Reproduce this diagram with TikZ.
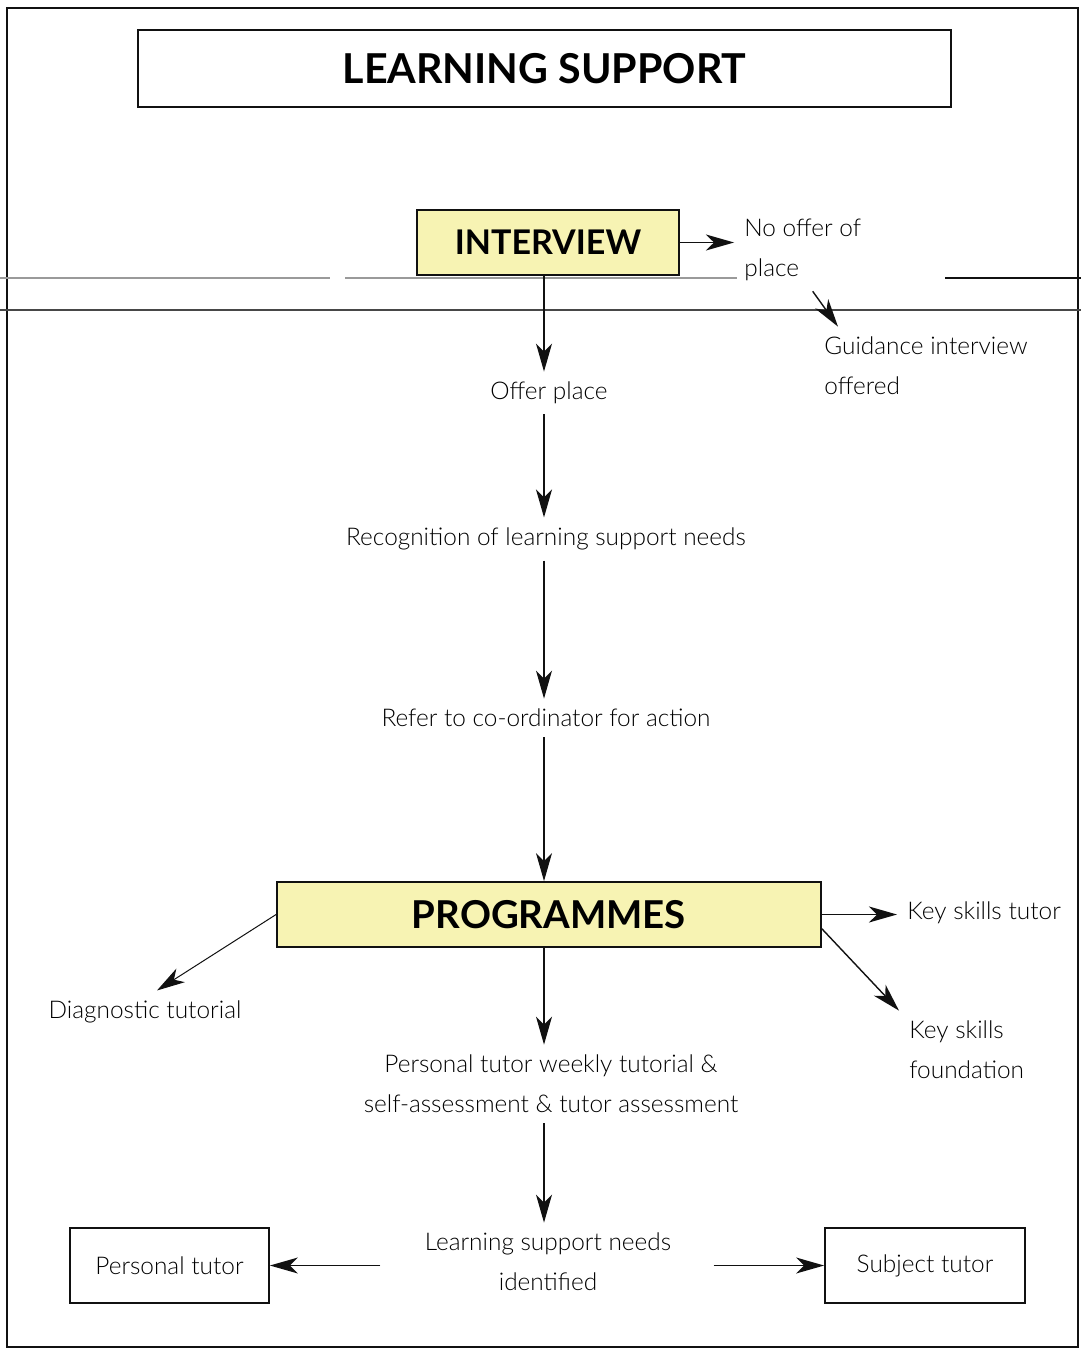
\documentclass[tikz,border=0pt]{standalone}
\usepackage{fontspec}
\setmainfont{Lato Light}[BoldFont={Lato Bold}]
\usepackage{xcolor}
\usepackage{tikz}
\usetikzlibrary{arrows.meta}
\definecolor{Ink}{HTML}{111111}
\definecolor{Pale}{HTML}{F7F3B3}
\definecolor{Rule}{HTML}{9A9A9A}

\begin{document}
\begin{tikzpicture}[x=0.5pt,y=-0.5pt,font=\fontsize{12.2}{20}\selectfont,
    txt/.style={inner sep=5pt,align=center,text=black},
    sidetxt/.style={inner sep=5pt,align=left,anchor=west,text=black},
    head/.style={draw=Ink,fill=Pale,line width=0.9pt,minimum height=32.5pt,
      text=black,font=\fontsize{17}{20}\selectfont\bfseries},
    tbox/.style={draw=Ink,line width=0.9pt,minimum width=100pt,minimum height=37.5pt,
      text=black},
    arr/.style={->,line width=0.7pt,draw=Ink},
    >={Stealth[length=14pt,width=8pt,inset=4pt]}]
  \useasboundingbox (0,0) rectangle (1081,1348);
  \draw[Ink,line width=0.7pt] (7,8) rectangle (1078,1347);
  \draw[Rule,line width=0.6pt] (0,278) -- (330,278) (345,278) -- (737,278);
  \draw[Ink,line width=0.6pt] (945,278) -- (1081,278);
  \draw[Rule!40!Ink,line width=0.6pt] (0,310) -- (1081,310);
  \node[draw=Ink,line width=0.9pt,minimum width=406.5pt,minimum height=38.5pt,
    font=\fontsize{20.6}{20}\selectfont\bfseries] (Title) at (544.5,68.5) {LEARNING SUPPORT};
  \node[head,minimum width=131pt] (Intv) at (548,242.5) {INTERVIEW};
  \coordinate (Axis) at ([xshift=-2pt]Intv.south);
  \node[sidetxt] (NoOff) at (734,250) {No offer of\\place};
  \node[sidetxt] (Guid) at (814,366) {Guidance interview\\offered};
  \node[txt] (Off) at (549,393) {Offer place};
  \node[txt] (Recog) at (546,539) {Recognition of learning support needs};
  \node[txt] (Refer) at (546,718) {Refer to co-ordinator for action};
  \node[head,minimum width=272pt,font=\fontsize{19.2}{20}\selectfont\bfseries] (Prog) at (549,914.5) {PROGRAMMES};
  \node[sidetxt] (KsT) at (897,913) {Key skills tutor};
  \node[sidetxt] (KsF) at (899,1050) {Key skills\\foundation};
  \node[txt] (Diag) at (145,1012) {Diagnostic tutorial};
  \node[txt] (PtW) at (551,1084) {Personal tutor weekly tutorial \&\\self-assessment \& tutor assessment};
  \node[txt] (Lsn) at (548,1262) {Learning support needs\\identified};
  \node[tbox,minimum width=99.5pt] (PT) at (169.5,1265.5) {Personal tutor};
  \node[tbox] (ST) at (925,1265.5) {Subject tutor};
  \draw[arr] (Intv) -- (Intv -| NoOff.west);
  \draw[arr] ([xshift=5pt]NoOff.south) -- ([xshift=12pt]Guid.north west);
  \draw[arr] (Axis) -- (Axis |- Off.north);
  \draw[arr] (Off.south -| Axis) -- (Axis |- Recog.north);
  \draw[arr] (Recog.south -| Axis) -- (Axis |- Refer.north);
  \draw[arr] (Refer.south -| Axis) -- (Axis |- Prog.north);
  \draw[arr] (Prog) -- (Prog -| KsT.west);
  \draw[arr] (Prog.-3) -- (KsF.north west);
  \draw[arr,line width=0.5pt] (Prog.west) -- ([xshift=6pt]Diag.north);
  \draw[arr] (Prog.south -| Axis) -- (Axis |- PtW.north);
  \draw[arr] (PtW.south -| Axis) -- (Axis |- Lsn.north);
  \draw[arr,shorten <=17pt] (Lsn.west |- PT.east) -- (PT.east);
  \draw[arr,shorten <=16pt] (Lsn.east |- ST.west) -- (ST.west);
\end{tikzpicture}
\end{document}
